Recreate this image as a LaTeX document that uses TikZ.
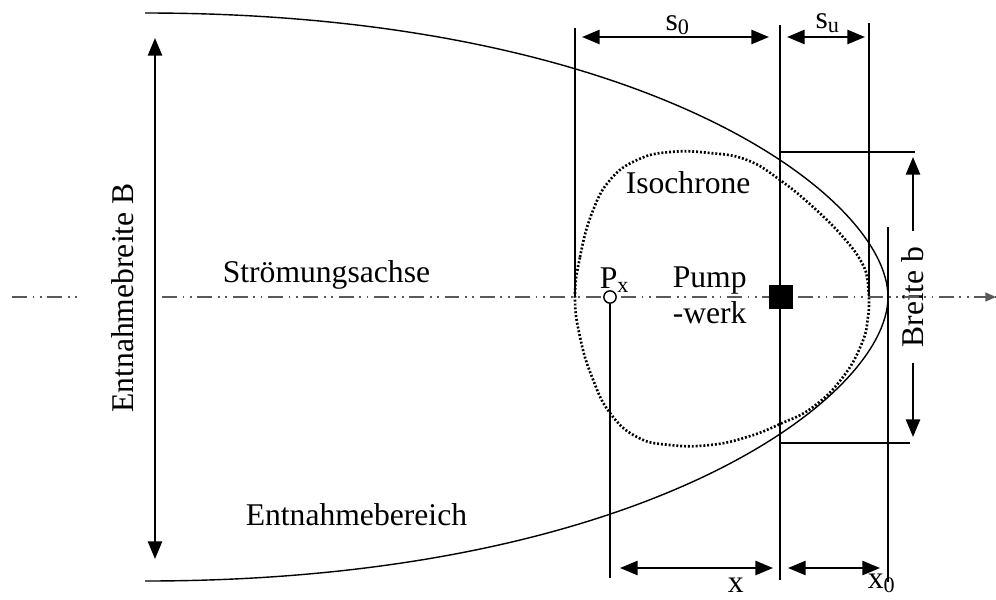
\documentclass[tikz,border=0pt]{standalone}
\usepackage{fontspec}
\setmainfont{Liberation Serif}
\usetikzlibrary{arrows.meta}

\begin{document}
\begin{tikzpicture}[x=0.02cm, y=-0.02cm, >={Triangle[length=10pt, width=8pt]},
  font=\fontsize{18}{20.5}\selectfont, line width=0.9pt]
  \useasboundingbox (0,0) rectangle (996,599);

  % Capture zone boundary (Entnahmebereich)
  \coordinate (BerT) at (145,13);
  \coordinate (Stag) at (888,297);
  \coordinate (BerB) at (145,581);
  \draw[line width=0.8pt] (BerT) .. controls (645,13) and (888,197) .. (Stag)
    .. controls (888,397) and (645,581) .. (BerB);

  % Isochrone
  \draw[line width=1.5pt, dash pattern=on 1.1pt off 1.1pt] plot[smooth cycle, tension=0.75] coordinates {
    (575,297) (580,257) (592,213) (610,180) (637,160) (670,152) (710,153)
    (747,160) (780,180) (813,207) (843,237) (862,263) (868,283) (869,297)
    (868,317) (862,343) (843,377) (813,407) (780,424) (747,437) (710,445)
    (670,445) (637,437) (610,413) (592,377) (580,337)};

  % Reference lines
  \coordinate (S0L) at (575,28);
  \coordinate (PumpT) at (780,25);
  \coordinate (PumpB) at (780,580);
  \coordinate (SuR) at (869,23);
  \coordinate (X0T) at (888,227);
  \coordinate (X0B) at (888,582);
  \draw (S0L) -- (575,297);
  \draw (PumpT) -- (PumpB);
  \draw (SuR) -- (869,297);
  \draw (X0T) -- (X0B);
  \draw (780,152) -- (915,152);
  \draw (780,443) -- (910,443);

  % Dimensions s0 and su
  \draw[<->, line width=1.3pt] (582,37) -- (769,37);
  \node[anchor=base west] (s0) at (659,30) {s\textsubscript{0}};
  \draw[<->, line width=1.3pt] (787,37) -- (865,37);
  \node[anchor=base west] (su) at (809,28) {s\textsubscript{u}};

  % Dimensions x and x0
  \draw[<->, line width=1.3pt] (620,568) -- (773,568);
  \node[anchor=base west, inner sep=0pt] (xlab) at (727,592) {x};
  \draw[<->, line width=1.3pt] (788,568) -- (880,568);
  \node[anchor=base west, inner sep=0pt] (x0lab) at (867,588) {x\textsubscript{0}};

  % Width b
  \draw[<->, line width=1.3pt] (913,157) -- (913,437)
    node[midway, rotate=90, fill=white, inner xsep=9pt, inner ysep=1pt] (breite) {Breite b};

  % Width B
  \draw[<->, line width=1.3pt] (155,38) -- (155,559);
  \node[rotate=90] (entB) at (123,298) {Entnahmebreite B};

  % Flow axis
  \coordinate (AxL) at (12,297);
  \coordinate (AxR) at (996,297);
  \draw[black!65, line width=1pt, dash pattern=on 8.5pt off 3.2pt on 1pt off 3.2pt on 1pt off 3.2pt]
    (AxL) -- (82,297) (162,297) -- (AxR);
  \draw[-{Triangle[length=6pt, width=5pt]}, black!65, line width=1pt] (986,297) -- (AxR);

  % Pumping station and observation point
  \node[fill=black, minimum size=14pt, inner sep=0pt] (Pump) at (781,297) {};
  \node[circle, draw, fill=white, minimum size=7pt, inner sep=0pt, line width=0.8pt] (Px) at (610,297) {};
  \draw (Px.south) -- (610,578);

  % Labels
  \node[anchor=base west, inner sep=0pt] (pxlab) at (599,288) {P\textsubscript{x}};
  \node[anchor=north west, align=left, inner sep=0pt] (pumplab) at (672,266) {Pump\\-werk};
  \node[anchor=base west, inner sep=0pt] (isolab) at (625,193) {Isochrone};
  \node[anchor=base west, inner sep=0pt] (achse) at (222,282) {Strömungsachse};
  \node[anchor=base west, inner sep=0pt] (bereich) at (245,525) {Entnahmebereich};
\end{tikzpicture}
\end{document}
